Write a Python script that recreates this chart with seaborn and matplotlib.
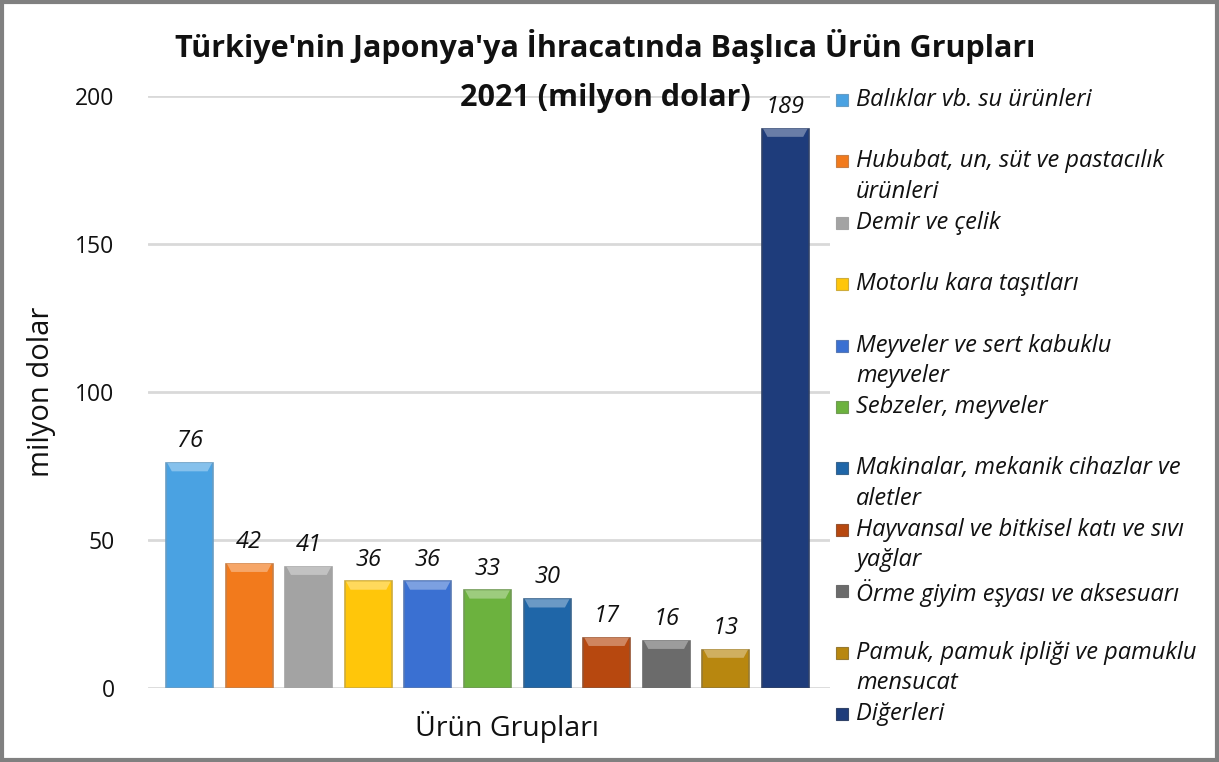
import numpy as np
import pandas as pd
import seaborn as sns
import matplotlib.pyplot as plt
from matplotlib.patches import Rectangle, Polygon

# == data == #
groups = ['Balıklar vb. su ürünleri',
          'Hububat, un, süt ve pastacılık\nürünleri',
          'Demir ve çelik',
          'Motorlu kara taşıtları',
          'Meyveler ve sert kabuklu\nmeyveler',
          'Sebzeler, meyveler',
          'Makinalar, mekanik cihazlar ve\naletler',
          'Hayvansal ve bitkisel katı ve sıvı\nyağlar',
          'Örme giyim eşyası ve aksesuarı',
          'Pamuk, pamuk ipliği ve pamuklu\nmensucat',
          'Diğerleri']
values = [76, 42, 41, 36, 36, 33, 30, 17, 16, 13, 189]
colors = ['#4aa2e2', '#f27a1c', '#a3a3a3', '#ffc60a', '#3a70d2', '#6cb23e',
          '#1f66a8', '#b7480f', '#6b6b6b', '#b8870f', '#1e3c7b']
yticks = [0, 50, 100, 150, 200]

df = pd.DataFrame({'grup': groups, 'deger': values})

sns.set_style('white')
plt.rcParams['font.family'] = ['Open Sans', 'DejaVu Sans']
txt = '#111111'

fig = plt.figure(figsize=(12.19, 7.62), dpi=100)
ax = fig.add_axes([148 / 1219, 1 - 688 / 762, (830 - 148) / 1219, (688 - 96) / 762])

sns.barplot(data=df, x='grup', y='deger', hue='grup', palette=colors,
            legend=False, width=0.79, ax=ax, saturation=1, zorder=3)

# bevel look: lighter cap on top of every bar
cap = 2.8
for bar, c in zip(list(ax.patches), colors):
    bar.set_edgecolor(sns.desaturate(c, 0.6))
    bar.set_linewidth(1.2)
    x0, w, h = bar.get_x(), bar.get_width(), bar.get_height()
    inset = w * 0.12
    light = sns.blend_palette([c, '#ffffff'], 4)[1]
    ax.add_patch(Polygon([(x0 + 0.02, h), (x0 + w - 0.02, h),
                          (x0 + w - inset, h - cap), (x0 + inset, h - cap)],
                         closed=True, facecolor=light, edgecolor='none', zorder=4))

for cont in ax.containers:
    ax.bar_label(cont, fmt='%d', padding=7, fontsize=17, style='italic', color=txt)

ax.set_ylim(0, 200)
ax.set_xlim(-0.7, 10.75)
ax.set_yticks(yticks)
ax.set_xticks([])
ax.tick_params(axis='y', labelsize=16.5, length=0, pad=24, labelcolor=txt)
ax.yaxis.grid(True, color='#d9d9d9', linewidth=2, zorder=0)
ax.set_axisbelow(True)
sns.despine(ax=ax, left=True, bottom=True, top=True, right=True)
ax.set_ylabel('milyon dolar', fontsize=21, labelpad=14, color=txt)
ax.set_xlabel('')
fig.text(507 / 1219, 1 - 727 / 762, 'Ürün Grupları', fontsize=20.5,
         ha='center', va='center', color=txt)

# title
fig.text(605 / 1219, 1 - 47 / 762,
         "Türkiye'nin Japonya'ya İhracatında Başlıca Ürün Grupları",
         fontsize=22, fontweight='bold', ha='center', va='center', color=txt)
fig.text(605 / 1219, 1 - 98 / 762, '2021 (milyon dolar)',
         fontsize=22, fontweight='bold', ha='center', va='center', color=txt)

# legend drawn by hand to keep Excel-like slot spacing
for i, (name, c) in enumerate(zip(groups, colors)):
    ypix = 100 + i * 61.4
    fig.patches.append(Rectangle((836 / 1219, 1 - (ypix + 6) / 762), 12 / 1219, 12 / 762,
                                 transform=fig.transFigure, facecolor=c,
                                 edgecolor=sns.desaturate(c, 0.6), linewidth=0.8))
    fig.text(856 / 1219, 1 - (ypix - 12) / 762, name, fontsize=17, style='italic',
             ha='left', va='top', linespacing=1.35, color=txt)

# outer frame
fig.patches.append(Rectangle((0.002, 0.003), 0.996, 0.994, transform=fig.transFigure,
                             fill=False, edgecolor='#808080', linewidth=3))

plt.savefig('out.png', dpi=100)
